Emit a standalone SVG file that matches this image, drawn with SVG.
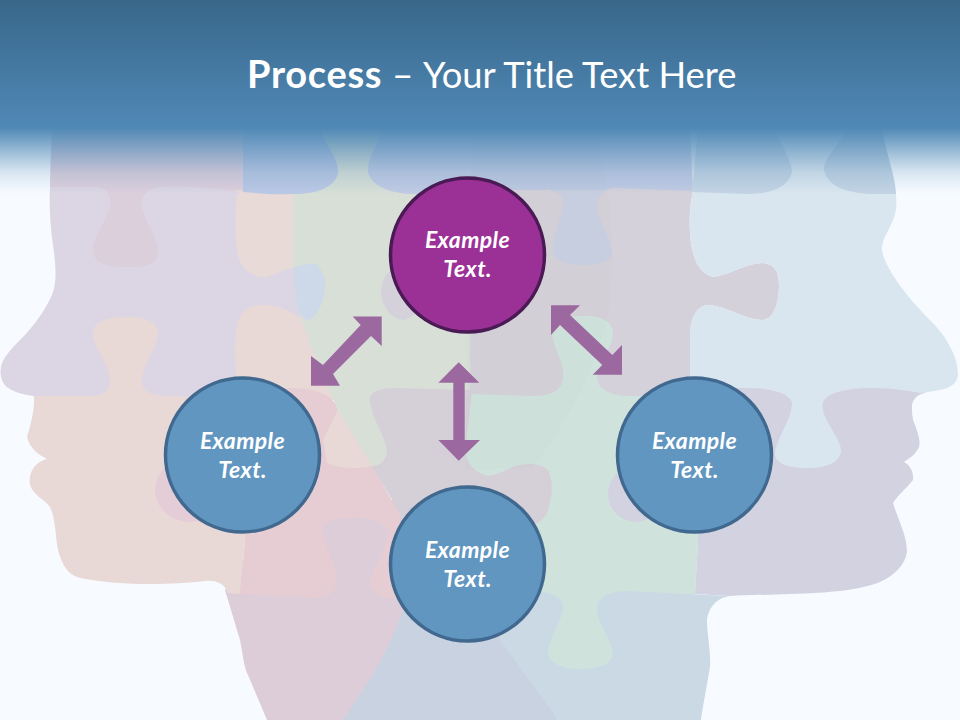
<svg xmlns="http://www.w3.org/2000/svg" width="960" height="720" viewBox="0 0 960 720">
<style>
.t{font-family:"Lato","Open Sans","Liberation Sans",sans-serif;fill:#fff}
.lbl{font-size:23px;font-weight:700;font-style:italic;text-anchor:middle;letter-spacing:.4px}
.blue{fill:#6096c0;stroke:#41698f;stroke-width:3.5}
.arrow{fill:#9b69a0}
</style>
<defs>
<linearGradient id="hdr" x1="0" y1="0" x2="0" y2="1"><stop offset="0" stop-color="#38678a"/><stop offset="1" stop-color="#5089b6"/></linearGradient>
<linearGradient id="fade" x1="0" y1="0" x2="0" y2="1"><stop offset="0" stop-color="#5089b6" stop-opacity="1"/><stop offset=".4" stop-color="#5089b6" stop-opacity=".5"/><stop offset=".68" stop-color="#5089b6" stop-opacity=".18"/><stop offset="1" stop-color="#5089b6" stop-opacity="0"/></linearGradient>
</defs>
<rect width="960" height="720" fill="#f7fbff"/>
<g id="puzzle-heads">
<path fill="#dccdd9" d="M225,590L240,640C243,655 244,668 248,675L267,720L360,720L420,610L400,500L280,500Z"/>
<path fill="#e8d9d7" d="M33,390C36,405 32,420 27,437C30,450 40,455 47,459C35,462 28,472 30,485C33,495 45,500 50,507C56,520 55,535 58,550C62,565 68,575 80,578C120,586 170,585 205,581C218,580 225,585 228,593L240,594L245,540L250,400L340,400L340,300L225,300L100,300Z"/>
<path fill="#e6ccd3" d="M245,392L290,388C315,388 335,395 338,410L375,470L400,515L405,600L380,597C375,590 368,588 370,580C375,565 390,545 387,530C382,518 360,517 350,518C335,518 322,522 323,532C325,550 338,565 337,580C337,590 330,597 320,598L240,594L245,540Z"/>
<ellipse cx="190" cy="490" rx="35" ry="32" fill="#e5cdd7"/>
<path fill="#e8d9d7" d="M323,440L338,410L372,466C360,469 340,469 327,463Z"/>
<path fill="#cfe3dc" d="M465,310L700,310L698,540L695,595L620,600L620,675L540,675L540,590L465,590Z"/>
<path fill="#c8d2e0" d="M343,720C370,680 390,650 403,610L500,600L558,720Z"/>
<path fill="#cbd9e5" d="M500,590L540,592C555,593 565,600 563,610C560,625 548,640 548,653C550,665 565,669 580,669C598,669 612,665 613,653C612,640 598,625 597,610C597,597 608,592 625,591C650,592 690,594 730,596C715,598 707,610 707,623C708,640 711,655 710,667C707,685 703,705 701,720L558,720L500,640Z"/>
<path fill="#d3d2e0" d="M697,385L925,385L925,393C915,395 911,402 912,410C912,415 913,418 913,420C917,430 921,440 919,447C915,455 910,458 904,462C910,465 914,472 913,480C905,490 898,495 893,503C898,520 907,535 907,552C905,565 895,575 880,582C860,590 830,593 790,594C770,595 745,595 730,596L695,594L698,540Z"/>
<ellipse cx="636" cy="494" rx="28" ry="28" fill="#d3d2e0"/>
<path fill="#dccfdc" d="M52,128L245,128L245,275L62,275L62,190L50,190C50,170 51,150 52,128Z"/>
<path fill="#e8dad6" d="M235,190L295,190L295,285L235,285Z"/>
<path fill="#d7dfd7" d="M293,128L472,128L472,396L465,470L372,466L338,410L310,345L300,315L293,268Z"/>
<path fill="#d5cfd8" d="M472,390L395,388C380,388 368,392 370,402C372,420 387,438 387,453C385,462 378,466 372,466L400,513L410,600L500,600L500,540C520,530 545,525 548,510C553,495 553,480 548,470C540,463 525,462 510,468C500,473 492,477 485,475C475,472 465,462 465,450Z"/>
<path fill="#dcd6e4" d="M50,187L95,187C108,187 112,198 110,207C106,222 92,238 93,252C95,265 110,267 128,267C145,267 158,265 158,252C158,238 145,222 142,207C140,195 148,187 165,187C195,186 225,190 240,192L237,195C235,215 235,240 238,255C242,272 255,277 265,277C275,276 285,268 293,268L300,320C295,312 280,305 262,305C248,305 240,312 237,325C234,345 235,365 237,380L240,397C210,398 180,397 157,395C147,394 140,388 142,377C145,362 158,345 158,333C157,320 142,317 128,317C112,317 93,320 93,333C93,347 108,362 110,377C110,390 105,396 90,396L33,396C20,394 5,390 2,380C-3,365 5,355 20,340C35,325 45,310 52,295C58,280 55,260 53,245C50,225 49,205 50,187Z"/>
<path fill="#cdd9e8" d="M293,267L313,263C322,268 326,278 325,287C324,300 318,318 308,320C302,320 298,312 297,305Z"/>
<path fill="#bac8e4" d="M243,128L320,128C325,145 340,160 338,173C335,188 315,194 295,194C275,195 255,193 243,192Z"/>
<path fill="#c0cbe3" d="M383,128C378,145 367,158 368,172C372,188 395,194 413,194L550,190L615,190L695,192L698,128Z"/>
<rect x="550" y="190" width="65" height="80" fill="#c9d0e2"/>
<path fill="#d5d1da" d="M400,268C388,268 381,280 381,292C382,308 392,320 405,320L440,300L430,270Z"/>
<path fill="#d5d1da" d="M472,190L545,190C560,190 565,198 563,207C560,222 552,238 553,252C555,262 565,265 582,265C598,265 612,262 612,252C612,238 598,222 597,207C597,195 605,188 615,188L693,191C690,205 689,220 690,232C691,250 695,272 713,277C730,275 745,263 763,263C775,264 779,272 779,285C779,300 775,320 762,320C745,320 725,305 707,305C695,307 690,320 690,335L690,378L690,396L623,396C610,395 596,388 597,377C600,362 613,345 613,333C612,320 600,316 585,316C565,316 552,320 552,333C552,347 565,362 563,377C563,390 550,396 535,396L470,394Z"/>
<path fill="#dae6ef" d="M690,128L882,128C885,150 895,175 896,195C897,207 896,213 893,220C888,232 881,242 882,250C885,268 905,295 930,320C945,335 958,355 958,375C956,388 945,390 920,393C900,389 870,386 847,390C830,393 820,398 823,410C826,425 842,440 841,452C838,466 820,468 807,468C795,468 777,466 775,455C775,440 792,420 792,403C790,392 765,387 740,388L690,392L690,335C690,320 695,307 707,305C725,305 745,320 762,320C775,320 779,300 779,285C779,272 775,264 763,263C745,263 730,275 713,277C695,272 691,250 690,232C689,220 690,205 693,191Z"/>
<path fill="#c3d4e4" d="M692,192L698,128L775,128C780,145 792,160 792,172C788,188 770,194 747,194Z"/>
<path fill="#c3d4e4" d="M847,128C840,145 823,158 824,170C828,188 850,193 870,194L896,194C895,175 885,150 882,128Z"/>
<path fill="#8a7a80" fill-opacity=".025" d="M472,128L595,128C605,170 612,210 612,253C612,280 610,300 607,320C590,380 565,425 533,467L465,470Z"/>
</g>
<rect y="128" width="960" height="66" fill="url(#fade)"/>
<rect width="960" height="128" fill="url(#hdr)"/>
<text class="t" y="88"><tspan x="247" font-size="38" font-weight="700" letter-spacing=".7">Process</tspan><tspan x="392" font-size="37">–</tspan><tspan x="423" font-size="36.3">Your Title Text Here</tspan></text>
<g id="connectors">
<polygon class="arrow" points="381.7,316.5 352.7,316.5 360.7,325 323,365 311,356 311,385.7 340,385.7 333,374 371,336 381.7,346"/>
<polygon class="arrow" points="458.7,362.3 479.3,382.7 464.7,382.7 464.7,440 480,440 458.7,460.7 438.3,440 453.3,440 453.3,382.7 438.3,382.7"/>
<polygon class="arrow" points="551,305.3 580,305.3 570,315 612.3,355 622,345 622,374.7 592.7,374.7 602.3,365 560,325 551,335"/>
</g>
<g id="node-top"><circle cx="467.5" cy="255" r="77" fill="#9b3096" stroke="#4a1a55" stroke-width="3.5"/><text class="t lbl" x="467.5" y="248">Example</text><text class="t lbl" x="467.5" y="277">Text.</text></g>
<g id="node-left"><circle class="blue" cx="242.5" cy="455" r="77"/><text class="t lbl" x="242.5" y="449">Example</text><text class="t lbl" x="242.5" y="478">Text.</text></g>
<g id="node-right"><circle class="blue" cx="694.5" cy="455" r="77"/><text class="t lbl" x="694.5" y="449">Example</text><text class="t lbl" x="694.5" y="478">Text.</text></g>
<g id="node-bottom"><circle class="blue" cx="467.5" cy="564" r="77"/><text class="t lbl" x="467.5" y="558">Example</text><text class="t lbl" x="467.5" y="587">Text.</text></g>
</svg>
